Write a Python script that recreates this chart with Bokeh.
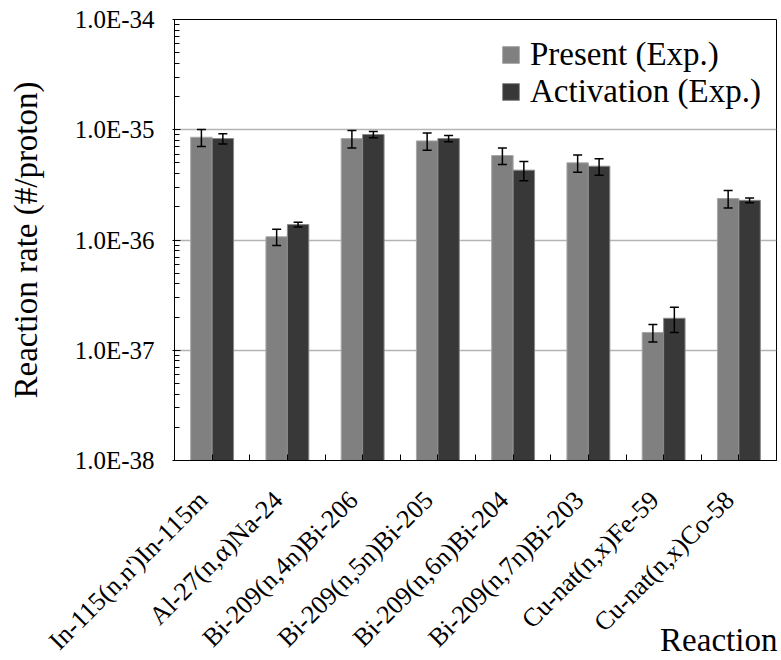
import numpy as np
from bokeh.plotting import figure
from bokeh.models import (ColumnDataSource, Whisker, TeeHead, FixedTicker, LogTicker,
                          CustomJSTickFormatter, Legend, LegendItem, Range1d)
from bokeh.embed import file_html
from bokeh.resources import INLINE

reactions = ["In-115(n,n')In-115m", "Al-27(n,\u03b1)Na-24", "Bi-209(n,4n)Bi-206",
             "Bi-209(n,5n)Bi-205", "Bi-209(n,6n)Bi-204", "Bi-209(n,7n)Bi-203",
             "Cu-nat(n,x)Fe-59", "Cu-nat(n,x)Co-58"]
present = [8.55e-36, 1.07e-36, 8.32e-36, 7.92e-36, 5.84e-36, 5.01e-36, 1.45e-37, 2.38e-36]
present_err = [1.5e-36, 0.18e-36, 1.5e-36, 1.4e-36, 1.0e-36, 0.9e-36, 0.26e-37, 0.43e-36]
activation = [8.32e-36, 1.38e-36, 9.05e-36, 8.32e-36, 4.30e-36, 4.67e-36, 1.95e-37, 2.29e-36]
activation_err = [0.9e-36, 0.07e-36, 0.6e-36, 0.55e-36, 0.85e-36, 0.8e-36, 0.5e-37, 0.11e-36]
y_min, y_max = 1e-38, 1e-34

FONT = "Liberation Serif"
n = len(reactions)
idx = np.arange(n)
bar_w = 0.285

src = ColumnDataSource(dict(
    xp=idx + 0.5 - bar_w / 2,
    xa=idx + 0.5 + bar_w / 2,
    present=present,
    activation=activation,
    p_up=np.array(present) + np.array(present_err),
    p_lo=np.array(present) - np.array(present_err),
    a_up=np.array(activation) + np.array(activation_err),
    a_lo=np.array(activation) - np.array(activation_err),
))

p = figure(width=781, height=660, x_range=Range1d(0, n), y_range=Range1d(y_min, y_max),
           y_axis_type="log", output_backend="svg", toolbar_location=None, title=None,
           min_border_left=174, min_border_right=5, min_border_top=19, min_border_bottom=199)

p.outline_line_color = "black"
p.outline_line_width = 1
p.background_fill_color = "white"
p.border_fill_color = "white"

r1 = p.vbar(x="xp", top="present", bottom=y_min, width=bar_w, source=src,
            fill_color="#808080", line_color="#a8a8a8", line_width=1)
r2 = p.vbar(x="xa", top="activation", bottom=y_min, width=bar_w, source=src,
            fill_color="#383838", line_color="#8a8a8a", line_width=1)

for base, up, lo in (("xp", "p_up", "p_lo"), ("xa", "a_up", "a_lo")):
    w = Whisker(source=src, base=base, upper=up, lower=lo, line_color="black", line_width=1.5,
                level="overlay",
                upper_head=TeeHead(size=9, line_color="black", line_width=1.5),
                lower_head=TeeHead(size=9, line_color="black", line_width=1.5))
    p.add_layout(w)

# x axis
xax = p.xaxis[0]
xax.ticker = FixedTicker(ticks=list(np.arange(0, n + 0.01, 0.5)))
xax.formatter = CustomJSTickFormatter(args=dict(names=reactions), code="""
    const i = Math.floor(tick);
    if (Math.abs(tick - i - 0.5) < 1e-6 && i >= 0 && i < names.length) return names[i] + "\\u00a0\\u00a0";
    return "";
""")
xax.major_label_orientation = np.pi / 4
xax.major_label_text_font = FONT
xax.major_label_text_font_size = "26px"
xax.major_label_text_color = "black"
xax.major_label_standoff = 26
xax.major_tick_in = 6
xax.major_tick_out = 0
xax.minor_tick_line_color = None
xax.axis_line_color = "black"
xax.major_tick_line_color = "black"
# axis title sits at the lower right; the label is centred on the axis end,
# so it is padded on its right with non-breaking spaces
xax.axis_label = "Reaction" + "\u00a0" * 14
xax.axis_label_text_font = FONT
xax.axis_label_text_font_size = "33px"
xax.axis_label_text_font_style = "normal"
xax.axis_label_text_color = "black"
xax.axis_label_standoff = -47
if "axis_label_align" in xax.properties():
    xax.axis_label_align = "end"
p.xgrid.visible = False

# y axis
p.yaxis.ticker = LogTicker(num_minor_ticks=10)
p.yaxis.formatter = CustomJSTickFormatter(code="""
    return "1.0E" + Math.round(Math.log10(tick));
""")
p.yaxis.major_label_text_font = FONT
p.yaxis.major_label_text_font_size = "25px"
p.yaxis.major_label_text_color = "black"
p.yaxis.major_label_standoff = 18
p.yaxis.major_tick_in = 6
p.yaxis.major_tick_out = 2
p.yaxis.minor_tick_in = 5
p.yaxis.minor_tick_out = 0
p.yaxis.axis_line_color = "black"
p.yaxis.axis_label = "Reaction rate (#/proton)"
p.yaxis.axis_label_text_font = FONT
p.yaxis.axis_label_text_font_size = "33px"
p.yaxis.axis_label_text_font_style = "normal"
p.yaxis.axis_label_text_color = "black"
p.yaxis.axis_label_standoff = 28
p.ygrid.grid_line_color = "#b4b4b4"
p.ygrid.grid_line_width = 1.5

legend = Legend(items=[LegendItem(label="Present (Exp.)", renderers=[r1]),
                       LegendItem(label="Activation (Exp.)", renderers=[r2])],
                location=(326, 350), border_line_color=None, background_fill_alpha=0,
                label_text_font=FONT, label_text_font_size="33px", label_text_color="black",
                glyph_width=21, glyph_height=21, label_standoff=9, spacing=-4,
                padding=7, margin=0)
p.add_layout(legend)

open("out.html", "w").write(file_html(p, INLINE))
